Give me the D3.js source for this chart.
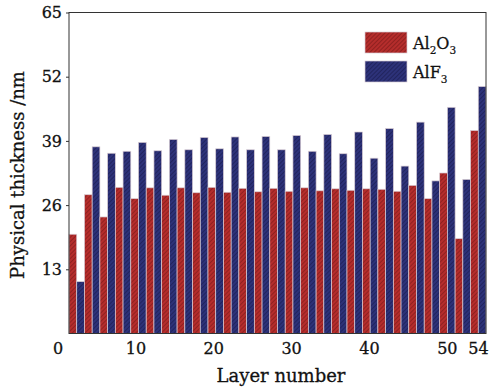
<!DOCTYPE html>
<html>
<head>
<meta charset="utf-8">
<script src="https://cdn.jsdelivr.net/npm/d3@7"></script>
<style>
  body { margin: 0; background: #fff; }
  text { font-family: "DejaVu Serif", "Liberation Serif", serif; fill: #111; stroke: #111; stroke-width: 0.3; }
</style>
</head>
<body>
<svg width="489" height="387"></svg>
<script>
// odd layers are Al2O3, even layers are AlF3
var al2o3 = [20.1, 28.1, 23.6, 29.6, 27.3, 29.5, 28.0, 29.5, 28.5, 29.6,
  28.6, 29.4, 28.7, 29.4, 28.8, 29.5, 28.9, 29.3, 29.0, 29.3,
  29.2, 28.8, 30.0, 27.3, 32.5, 19.2, 41.1];
var alf3 = [10.5, 37.8, 36.5, 36.9, 38.7, 37.0, 39.3, 37.2, 39.7, 37.4,
  39.8, 37.2, 39.9, 37.2, 40.1, 36.9, 40.3, 36.4, 40.8, 35.5,
  41.5, 33.9, 42.8, 30.9, 45.8, 31.2, 50.0];
var materials = ["Al2O3", "AlF3"];
var xTicks = [0, 10, 20, 30, 40, 50, 54];
var yTicks = [13, 26, 39, 52, 65];

var layers = [];
al2o3.forEach(function (v, i) {
  layers.push({ n: 2 * i + 1, mat: "Al2O3", v: v });
  layers.push({ n: 2 * i + 2, mat: "AlF3", v: alf3[i] });
});

var svg = d3.select('svg');
var plotL = 69, plotR = 486, plotT = 12.5, plotB = 333.5;

var colors = { "Al2O3": ["#b52d2c", "#8c1f1f"], "AlF3": ["#2d3279", "#1f235b"] };

// hatched fills
var defs = svg.append("defs");
materials.forEach(function (m) {
  var p = defs.append("pattern")
    .attr("id", "hatch-" + m)
    .attr("patternUnits", "userSpaceOnUse")
    .attr("width", 3).attr("height", 3)
    .attr("patternTransform", "rotate(-45)");
  p.append("rect").attr("width", 3).attr("height", 3).attr("fill", colors[m][0]);
  p.append("line").attr("x1", 0).attr("y1", 1.5).attr("x2", 3).attr("y2", 1.5)
    .attr("stroke", colors[m][1]).attr("stroke-width", 0.9);
});

var xBand = d3.scaleBand()
  .domain(layers.map(function (d) { return d.n; }))
  .range([plotL, plotR])
  .padding(0);

var xLin = d3.scaleLinear().domain([0, 54]).range([57.5, 478]);

var y = d3.scaleLinear().domain([0, 65]).range([plotB, plotT]);

svg.append("g")
  .selectAll("rect")
  .data(layers)
  .enter()
  .append("rect")
  .attr("x", function (d) { return xBand(d.n); })
  .attr("y", function (d) { return y(d.v); })
  .attr("width", xBand.bandwidth())
  .attr("height", function (d) { return y(0) - y(d.v); })
  .attr("fill", function (d) { return "url(#hatch-" + d.mat + ")"; })
  .attr("stroke", "#d8ccd4")
  .attr("stroke-width", 0.7);

// frame
svg.append("rect")
  .attr("x", plotL).attr("y", plotT)
  .attr("width", plotR - plotL).attr("height", plotB - plotT)
  .attr("fill", "none")
  .attr("stroke", "#333")
  .attr("stroke-width", 1);

var yAxis = svg.append("g")
  .attr("transform", "translate(" + plotL + ",0)")
  .call(d3.axisLeft(y).tickValues(yTicks).tickSize(3).tickPadding(4));
yAxis.select(".domain").remove();
yAxis.selectAll("line").attr("stroke", "#333");
yAxis.selectAll("text").attr("font-size", 16).attr("font-family", "DejaVu Serif").attr("fill", "#111");

var xAxis = svg.append("g")
  .attr("transform", "translate(0," + plotB + ")")
  .call(d3.axisBottom(xLin).tickValues(xTicks).tickSize(0).tickPadding(9));
xAxis.select(".domain").remove();
xAxis.selectAll("text").attr("font-size", 16).attr("font-family", "DejaVu Serif").attr("fill", "#111");

svg.append("text")
  .attr("x", 281).attr("y", 382)
  .attr("text-anchor", "middle")
  .attr("font-size", 18)
  .text("Layer number");

svg.append("text")
  .attr("transform", "translate(24,175) rotate(-90)")
  .attr("text-anchor", "middle")
  .attr("font-size", 18)
  .text("Physical thickness /nm");

// legend
var legend = svg.append("g");
var labels = {
  "Al2O3": [["Al", false], ["2", true], ["O", false], ["3", true]],
  "AlF3": [["AlF", false], ["3", true]]
};
materials.forEach(function (m, i) {
  var gy = 32 + i * 29;
  legend.append("rect")
    .attr("x", 365).attr("y", gy)
    .attr("width", 42).attr("height", 21)
    .attr("fill", "url(#hatch-" + m + ")")
    .attr("stroke", "#d8ccd4").attr("stroke-width", 0.7);
  var t = legend.append("text")
    .attr("x", 413).attr("y", gy + 17)
    .attr("font-size", 16);
  labels[m].forEach(function (part) {
    var s = t.append("tspan").text(part[0]);
    if (part[1]) s.attr("font-size", 10.5).attr("dy", 4.5).attr("stroke-width", 0.2);
    else s.attr("dy", t.selectAll("tspan").size() > 1 ? -4.5 : 0);
  });
});
</script>
</body>
</html>
